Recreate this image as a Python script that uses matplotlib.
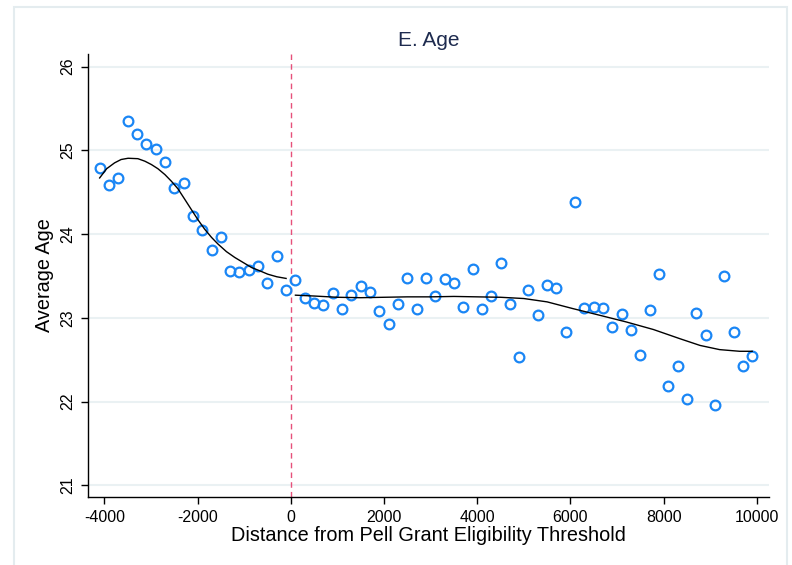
import numpy as np
import matplotlib.pyplot as plt
from matplotlib.patches import Rectangle

plt.rcParams['font.family'] = ['Liberation Sans', 'DejaVu Sans']
plt.rcParams['axes.unicode_minus'] = False

# binned means, 200-unit bins on each side of the threshold
x_left = np.arange(-4100, 0, 200)
y_left = [24.79, 24.58, 24.67, 25.35, 25.19, 25.08, 25.02, 24.86, 24.55, 24.61,
          24.22, 24.05, 23.81, 23.97, 23.56, 23.55, 23.57, 23.62, 23.42, 23.74,
          23.33]
x_right = np.arange(100, 10000, 200)
y_right = [23.45, 23.24, 23.18, 23.15, 23.30, 23.10, 23.27, 23.38, 23.31, 23.08,
           22.93, 23.17, 23.47, 23.10, 23.47, 23.26, 23.46, 23.41, 23.13, 23.58,
           23.10, 23.26, 23.65, 23.16, 22.53, 23.33, 23.03, 23.39, 23.35, 22.83,
           24.38, 23.12, 23.13, 23.12, 22.89, 23.04, 22.86, 22.55, 23.09, 23.52,
           22.19, 22.43, 22.03, 23.06, 22.79, 21.96, 23.50, 22.83, 22.42, 22.54]

# fitted values on each side of the cutoff
fit_x_left = [-4100, -3950, -3780, -3640, -3490, -3280, -3130, -2990, -2850,
              -2700, -2560, -2420, -2280, -2130, -1990, -1850, -1700, -1560,
              -1380, -1200, -1020, -840, -660, -490, -300, -100]
fit_y_left = [24.67, 24.78, 24.85, 24.89, 24.905, 24.90, 24.87, 24.83, 24.78,
              24.71, 24.63, 24.54, 24.42, 24.29, 24.17, 24.06, 23.96, 23.88,
              23.79, 23.72, 23.66, 23.60, 23.56, 23.52, 23.49, 23.47]
fit_x_right = [100, 500, 1000, 1500, 2000, 2500, 3000, 3500, 4000, 4500, 5000,
               5500, 6050, 6630, 7200, 7780, 8350, 8780, 9200, 9630, 9900]
fit_y_right = [23.27, 23.26, 23.245, 23.24, 23.245, 23.25, 23.25, 23.255, 23.25,
               23.245, 23.23, 23.19, 23.11, 23.03, 22.95, 22.86, 22.75, 22.67,
               22.62, 22.60, 22.60]

xticks = [-4000, -2000, 0, 2000, 4000, 6000, 8000, 10000]
yticks = [21, 22, 23, 24, 25, 26]

fig = plt.figure(figsize=(7.92, 5.65), dpi=100)
fig.patches.append(Rectangle((14/792, -0.05), (787-14)/792, 1.05 - 7/565,
                             transform=fig.transFigure, fill=False,
                             edgecolor='#e4ecef', linewidth=1.5))
ax = fig.add_axes([88/792, (565-497)/565, (769-88)/792, (497-54)/565])

blue = '#1a86f5'
ax.plot(x_left, y_left, 'o', mfc='none', mec=blue, mew=1.6, ms=7, zorder=3)
ax.plot(x_right, y_right, 'o', mfc='none', mec=blue, mew=1.6, ms=7, zorder=3)

ax.plot(fit_x_left, fit_y_left, color='black', lw=1.0, zorder=4)
ax.plot(fit_x_right, fit_y_right, color='black', lw=1.0, zorder=4)

ax.axvline(0, color='#e6507a', lw=1.0, ls=(0, (4, 3)), zorder=2)

ax.set_xlim(-4350, 10260)
ax.set_ylim(20.86, 26.15)
ax.set_xticks(xticks)
ax.set_yticks(yticks)
ax.grid(axis='y', color='#eaf1f3', lw=1.5)
ax.set_axisbelow(True)
for s in ['top', 'right']:
    ax.spines[s].set_visible(False)
for s in ['left', 'bottom']:
    ax.spines[s].set_linewidth(1.0)
ax.tick_params(direction='out', length=5, width=1.0, labelsize=11.5, pad=4)
plt.setp(ax.get_yticklabels(), rotation=90, va='center')

ax.set_xlabel('Distance from Pell Grant Eligibility Threshold', fontsize=14.3, labelpad=1)
ax.set_ylabel('Average Age', fontsize=14.3, labelpad=5)
ax.set_title('E. Age', fontsize=15, color='#1e2b4f', pad=6)

fig.savefig('out.png', dpi=100)
